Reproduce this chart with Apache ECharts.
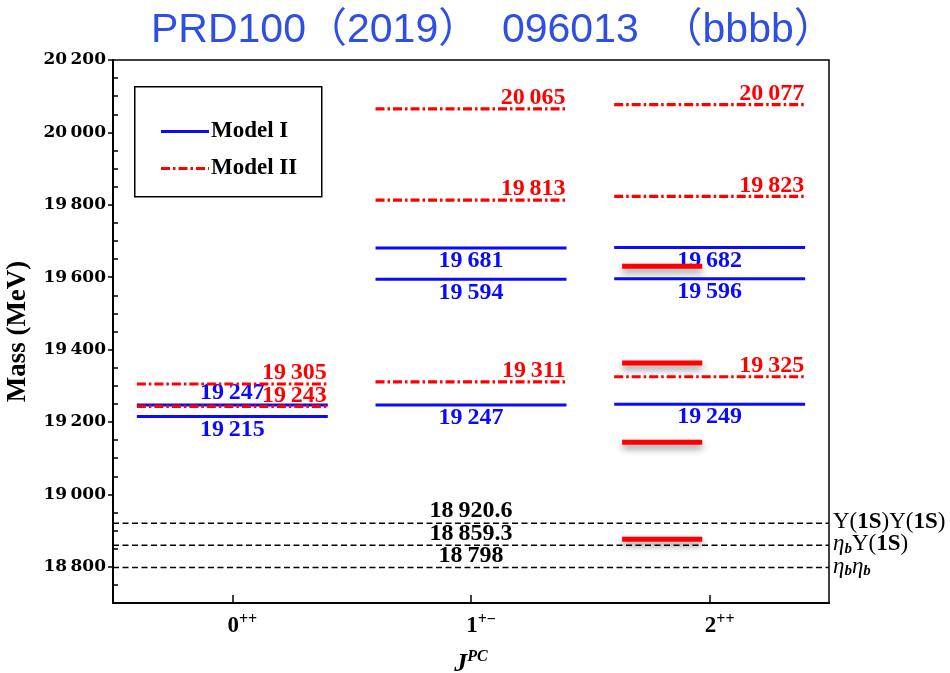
<!DOCTYPE html>
<html>
<head>
<meta charset="utf-8">
<script src="https://cdn.jsdelivr.net/npm/echarts@6/dist/echarts.min.js"></script>
<style>
  html, body { margin: 0; padding: 0; background: #fff; }
  #chart { width: 950px; height: 673px; }
</style>
</head>
<body>
<div id="chart"></div>
<script>
// J^PC channels (x positions 0, 1, 2)
const jpcBase = ['0', '1', '2'];
const jpcSup = ['++', '+\u2212', '++'];

// Mass levels in MeV, one list per J^PC channel
const modelI = [
  [19215, 19247],
  [19247, 19594, 19681],
  [19249, 19596, 19682]
];
const modelII = [
  [19243, 19305],
  [19311, 19813, 20065],
  [19325, 19823, 20077]
];

// Extra short levels drawn in the 2++ channel
const extraLevels2pp = [19630, 19363, 19144, 18876];

// Two-meson thresholds (MeV) and their channel names
const thresholdMass = [18920.6, 18859.3, 18798];
const thresholdName = [
  '{r|\u03A5(}{b|1S}{r|)\u03A5(}{b|1S}{r|)}',
  '{i|\u03B7}{sub|b}{r|\u03A5(}{b|1S}{r|)}',
  '{i|\u03B7}{sub|b}{i|\u03B7}{sub|b}'
];

// Y axis ticks
const yMajor = [18800, 19000, 19200, 19400, 19600, 19800, 20000, 20200];
const yTickLabels = ['18\u2009800', '19\u2009000', '19\u2009200', '19\u2009400', '19\u2009600', '19\u2009800', '20\u2009000', '20\u2009200'];
const yMin = 18700, yMax = 20200;
const yMinor = [];
for (let v = yMin; v <= yMax; v += 50) if (yMajor.indexOf(v) < 0) yMinor.push(v);

const SERIF = '"Liberation Serif", "Times New Roman", serif';
const BLUE = '#0a0aff';
const RED = '#ff0000';
const HALF = 0.4;

function fmt(v) {
  const s = String(v);
  const parts = s.split('.');
  const ip = parts[0];
  const out = ip.slice(0, ip.length - 3) + '\u2009' + ip.slice(ip.length - 3);
  return parts.length > 1 ? out + '.' + parts[1] : out;
}

function flatten(levels) {
  const d = [];
  levels.forEach((vals, ci) => vals.forEach(v => d.push([ci, v])));
  return d;
}

const labelFont = { fontFamily: SERIF, fontWeight: 'bold', fontSize: 24 };

const seriesModelI = {
  type: 'custom',
  name: 'Model I',
  data: flatten(modelI),
  encode: { x: 0, y: 1 },
  z: 3,
  renderItem: function (params, api) {
    const c = api.value(0), v = api.value(1);
    const a = api.coord([c - HALF, v]);
    const b = api.coord([c + HALF, v]);
    const mid = api.coord([c, v]);
    // a close level just below pushes this label above its line
    const crowded = modelI[c].some(o => o < v && v - o < 40);
    return {
      type: 'group',
      children: [
        { type: 'line', shape: { x1: a[0], y1: a[1], x2: b[0], y2: b[1] },
          style: { stroke: BLUE, lineWidth: 3 } },
        { type: 'text', style: Object.assign({
            text: fmt(v), x: mid[0], y: crowded ? mid[1] - 12 : mid[1] + 13,
            align: 'center', verticalAlign: 'middle', fill: BLUE }, labelFont) }
      ]
    };
  }
};

const seriesModelII = {
  type: 'custom',
  name: 'Model II',
  data: flatten(modelII),
  encode: { x: 0, y: 1 },
  z: 4,
  renderItem: function (params, api) {
    const c = api.value(0), v = api.value(1);
    const a = api.coord([c - HALF, v]);
    const b = api.coord([c + HALF, v]);
    return {
      type: 'group',
      children: [
        { type: 'line', shape: { x1: a[0], y1: a[1], x2: b[0], y2: b[1] },
          style: { stroke: RED, lineWidth: 3.2, lineDash: [9, 3, 2.5, 3] } },
        { type: 'text', style: Object.assign({
            text: fmt(v), x: b[0] - 1, y: a[1] - 11,
            align: 'right', verticalAlign: 'middle', fill: RED }, labelFont) }
      ]
    };
  }
};

const seriesExtra = {
  type: 'custom',
  name: 'extra',
  data: extraLevels2pp.map(v => [2, v]),
  encode: { x: 0, y: 1 },
  z: 5,
  renderItem: function (params, api) {
    const v = api.value(1);
    const a = api.coord([2 - 0.367, v]);
    const b = api.coord([2 - 0.031, v]);
    return {
      type: 'line',
      shape: { x1: a[0], y1: a[1], x2: b[0], y2: b[1] },
      style: { stroke: RED, lineWidth: 5, shadowBlur: 7, shadowColor: 'rgba(0,0,0,0.45)', shadowOffsetY: 4 }
    };
  }
};

const seriesThreshold = {
  type: 'custom',
  name: 'thresholds',
  data: thresholdMass.map((v, i) => [i, v]),
  encode: { y: 1 },
  z: 2,
  clip: false,
  renderItem: function (params, api) {
    const i = api.value(0), v = api.value(1);
    const a = api.coord([-0.5, v]);
    const b = api.coord([2.5, v]);
    const mid = api.coord([1, v]);
    return {
      type: 'group',
      children: [
        { type: 'line', shape: { x1: a[0], y1: a[1], x2: b[0], y2: b[1] },
          style: { stroke: '#000', lineWidth: 1.5, lineDash: [6, 3.5] } },
        { type: 'text', style: Object.assign({
            text: fmt(v), x: mid[0], y: mid[1] - 12,
            align: 'center', verticalAlign: 'middle', fill: '#000' }, labelFont) },
        { type: 'text', style: {
            text: thresholdName[i], x: b[0] + 4, y: b[1] - 1,
            align: 'left', verticalAlign: 'middle',
            rich: {
              r: { fontFamily: SERIF, fontSize: 23, fill: '#000', lineHeight: 24, verticalAlign: 'middle' },
              b: { fontFamily: SERIF, fontSize: 23, fontWeight: 'bold', fill: '#000', lineHeight: 24, verticalAlign: 'middle' },
              i: { fontFamily: SERIF, fontSize: 23, fontStyle: 'italic', fill: '#000', lineHeight: 24, verticalAlign: 'middle' },
              sub: { fontFamily: SERIF, fontSize: 15, fontStyle: 'italic', fontWeight: 'bold', fill: '#000', lineHeight: 15, verticalAlign: 'bottom', padding: [6, 0, 0, 0] }
            } } }
      ]
    };
  }
};

const chart = echarts.init(document.getElementById('chart'), null, { renderer: 'canvas' });

chart.setOption({
  backgroundColor: '#fff',
  animation: false,
  title: {
    text: 'PRD100\uFF082019\uFF09  096013  \uFF08bbbb\uFF09',
    left: 146, top: 5,
    textStyle: { fontFamily: '"Liberation Sans", "Noto Sans CJK SC", sans-serif', fontWeight: 'normal', fontSize: 41, color: '#2f4fe3' }
  },
  grid: { left: 113, right: 121, top: 60, bottom: 70, show: true, borderColor: '#000', borderWidth: 1.5, containLabel: false, outerBoundsMode: 'none' },
  xAxis: {
    type: 'value', min: -0.5, max: 2.5,
    axisLine: { show: true, onZero: false, lineStyle: { color: '#000', width: 2 } },
    axisTick: { show: true, inside: true, length: 8, customValues: [0, 1, 2], lineStyle: { color: '#000', width: 1.5 } },
    axisLabel: {
      customValues: [0, 1, 2], margin: 9,
      // the leading spacer balances the superscript so the digit sits on the tick
      formatter: v => '{pad| }{b|' + jpcBase[v] + '}{s|' + jpcSup[v] + '}',
      rich: {
        pad: { width: 20, fontSize: 16, lineHeight: 16 },
        b: { fontFamily: SERIF, fontWeight: 'bold', fontSize: 23, color: '#000', lineHeight: 26, verticalAlign: 'bottom' },
        s: { fontFamily: SERIF, fontWeight: 'bold', fontSize: 16, color: '#000', lineHeight: 16, verticalAlign: 'top' }
      }
    },
    splitLine: { show: false },
    name: '{j|J}{s|PC}', nameLocation: 'middle', nameGap: 46,
    nameTextStyle: {
      rich: {
        j: { fontFamily: SERIF, fontWeight: 'bold', fontStyle: 'italic', fontSize: 26, color: '#000', lineHeight: 28, verticalAlign: 'bottom' },
        s: { fontFamily: SERIF, fontWeight: 'bold', fontStyle: 'italic', fontSize: 16, color: '#000', lineHeight: 16, verticalAlign: 'top' }
      }
    }
  },
  yAxis: [
    {
      type: 'value', min: yMin, max: yMax, position: 'left', offset: 0,
      axisLine: { show: true, onZero: false, lineStyle: { color: '#000', width: 2 } },
      axisTick: { show: true, inside: false, length: 5, customValues: yMajor, lineStyle: { color: '#000', width: 1.5 } },
      axisLabel: {
        customValues: yMajor, margin: 7,
        formatter: v => yTickLabels[yMajor.indexOf(v)],
        fontFamily: '"DejaVu Serif", serif', fontWeight: 'bold', fontSize: 17, color: '#000'
      },
      splitLine: { show: false },
      name: 'Mass (MeV)', nameLocation: 'middle', nameGap: 81, nameRotate: 90,
      nameTextStyle: { fontFamily: SERIF, fontWeight: 'bold', fontSize: 27, color: '#000' }
    },
    {
      type: 'value', min: yMin, max: yMax, position: 'left', offset: 0,
      axisLine: { show: false, onZero: false },
      axisTick: { show: true, inside: true, length: 5, customValues: yMinor, lineStyle: { color: '#000', width: 1.5 } },
      axisLabel: { show: false },
      splitLine: { show: false }
    }
  ],
  series: [seriesThreshold, seriesModelI, seriesModelII, seriesExtra],
  graphic: [
    { type: 'rect', left: 134, top: 86, shape: { width: 187, height: 110 },
      style: { fill: '#fff', stroke: '#000', lineWidth: 1.5 }, z: 10 },
    { type: 'line', shape: { x1: 161, y1: 131.5, x2: 209, y2: 131.5 }, style: { stroke: BLUE, lineWidth: 3 }, z: 11 },
    { type: 'line', shape: { x1: 161, y1: 168.5, x2: 209, y2: 168.5 }, style: { stroke: RED, lineWidth: 3.2, lineDash: [9, 3, 2.5, 3] }, z: 11 },
    { type: 'text', x: 211, y: 131, style: { text: 'Model I', fontFamily: SERIF, fontWeight: 'bold', fontSize: 23, fill: '#000', verticalAlign: 'middle' }, z: 11 },
    { type: 'text', x: 211, y: 168, style: { text: 'Model II', fontFamily: SERIF, fontWeight: 'bold', fontSize: 23, fill: '#000', verticalAlign: 'middle' }, z: 11 }
  ]
});
</script>
</body>
</html>
